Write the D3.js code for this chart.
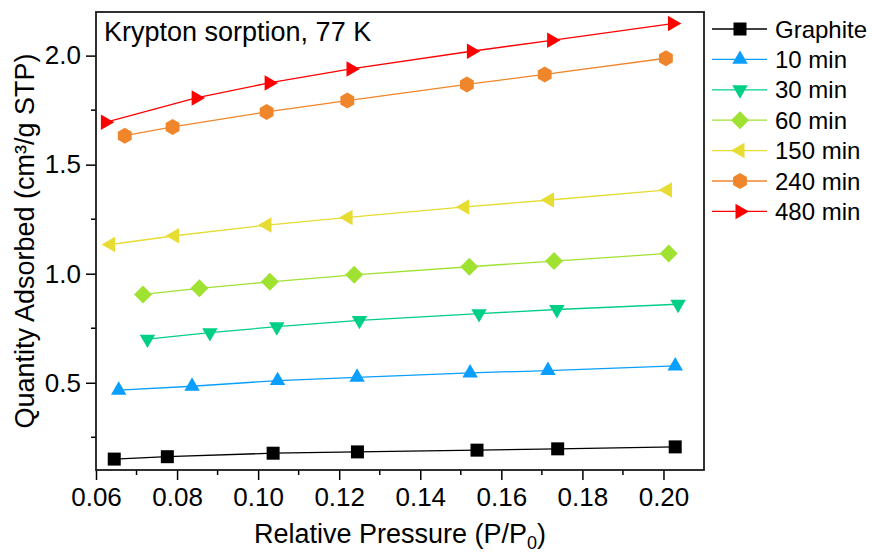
<!DOCTYPE html>
<html>
<head>
<meta charset="utf-8">
<script src="https://cdn.jsdelivr.net/npm/d3@7"></script>
<style>
  html, body { margin: 0; padding: 0; background: #fff; }
  svg { display: block; font-family: "Liberation Sans", Arial, sans-serif; }
</style>
</head>
<body>
<svg id="chart" width="872" height="555"></svg>
<script>
// ---- Data ----
const seriesNames = ["Graphite", "10 min", "30 min", "60 min", "150 min", "240 min", "480 min"];
const seriesColors = ["#000000", "#0A9EFF", "#02CF86", "#A0E232", "#E6DC32", "#F0862C", "#FF0000"];
const seriesSymbols = ["square", "triUp", "triDown", "diamond", "triLeft", "hexagon", "triRight"];

const graphiteX = [0.0645, 0.0776, 0.1037, 0.1245, 0.1540, 0.1739, 0.2029];
const graphiteY = [0.150, 0.161, 0.177, 0.183, 0.191, 0.197, 0.206];
const min10X = [0.0656, 0.0837, 0.1048, 0.1244, 0.1523, 0.1715, 0.2029];
const min10Y = [0.466, 0.484, 0.510, 0.525, 0.545, 0.556, 0.577];
const min30X = [0.0727, 0.0881, 0.1046, 0.1250, 0.1545, 0.1737, 0.2036];
const min30Y = [0.700, 0.730, 0.757, 0.786, 0.817, 0.836, 0.860];
const min60X = [0.0716, 0.0855, 0.1029, 0.1237, 0.1521, 0.1730, 0.2013];
const min60Y = [0.905, 0.933, 0.963, 0.995, 1.032, 1.058, 1.093];
const min150X = [0.0636, 0.0794, 0.1022, 0.1222, 0.1510, 0.1719, 0.2010];
const min150Y = [1.134, 1.174, 1.223, 1.258, 1.306, 1.338, 1.384];
const min240X = [0.0671, 0.0789, 0.1021, 0.1220, 0.1515, 0.1707, 0.2006];
const min240Y = [1.633, 1.673, 1.742, 1.794, 1.868, 1.914, 1.988];
const min480X = [0.0623, 0.0847, 0.1027, 0.1229, 0.1526, 0.1724, 0.2022];
const min480Y = [1.694, 1.806, 1.875, 1.939, 2.020, 2.070, 2.147];

const xTicks = [0.06, 0.08, 0.10, 0.12, 0.14, 0.16, 0.18, 0.20];
const xMinorTicks = [0.07, 0.09, 0.11, 0.13, 0.15, 0.17, 0.19];
const yTicks = [0.5, 1.0, 1.5, 2.0];
const yMinorTicks = [0.25, 0.75, 1.25, 1.75];
const xDomain = [0.06, 0.21];
const yDomain = [0.1, 2.2];

const titleText = "Krypton sorption, 77 K";
const yTitle = "Quantity Adsorbed (cm³/g STP)";

const allX = [graphiteX, min10X, min30X, min60X, min150X, min240X, min480X];
const allY = [graphiteY, min10Y, min30Y, min60Y, min150Y, min240Y, min480Y];
const series = seriesNames.map((name, i) => ({
  name, color: seriesColors[i], symbol: seriesSymbols[i],
  points: allX[i].map((x, j) => ({ x, y: allY[i][j] }))
}));

// ---- Layout ----
const plot = { left: 96, right: 704, top: 12, bottom: 470 };
const svg = d3.select("#chart");

const x = d3.scaleLinear().domain(xDomain).range([plot.left, plot.right]);
const y = d3.scaleLinear().domain(yDomain).range([plot.bottom, plot.top]);

// symbol paths
function symbolPath(type) {
  const tri = (a) => { const h = a * Math.sqrt(3) / 2; return [[0, -2 * h / 3], [a / 2, h / 3], [-a / 2, h / 3]]; };
  let pts;
  if (type === "square") { const s = 6.5; pts = [[-s, -s], [s, -s], [s, s], [-s, s]]; }
  else if (type === "triUp") pts = tri(15.5);
  else if (type === "triDown") pts = tri(15.5).map(([a, b]) => [a, -b]);
  else if (type === "triLeft") pts = tri(15.5).map(([a, b]) => [b, a]);
  else if (type === "triRight") pts = tri(15.5).map(([a, b]) => [-b, a]);
  else if (type === "diamond") { const r = 9; pts = [[0, -r], [r, 0], [0, r], [-r, 0]]; }
  else if (type === "hexagon") { const r = 8; pts = d3.range(6).map(k => { const ang = Math.PI / 3 * k - Math.PI / 2; return [r * Math.cos(ang), r * Math.sin(ang)]; }); }
  return "M" + pts.map(p => p.join(",")).join("L") + "Z";
}

// ---- Axes ----
const fontTick = 26;
const xAxis = d3.axisBottom(x).tickValues(xTicks).tickFormat(d3.format(".2f")).tickSize(10).tickSizeOuter(0).tickPadding(8);
const yAxis = d3.axisLeft(y).tickValues(yTicks).tickFormat(d3.format(".1f")).tickSize(10).tickSizeOuter(0).tickPadding(5);

const gx = svg.append("g").attr("transform", `translate(0,${plot.bottom})`).call(xAxis);
const gy = svg.append("g").attr("transform", `translate(${plot.left},0)`).call(yAxis);
[gx, gy].forEach(g => {
  g.select(".domain").remove();
  g.selectAll(".tick line").attr("stroke", "#000").attr("stroke-width", 1.5);
  g.selectAll(".tick text").attr("font-size", fontTick).attr("fill", "#000")
    .attr("font-family", '"Liberation Sans", Arial, sans-serif');
});

// minor ticks
svg.append("g").selectAll("line").data(xMinorTicks).join("line")
  .attr("x1", d => x(d)).attr("x2", d => x(d))
  .attr("y1", plot.bottom).attr("y2", plot.bottom + 5)
  .attr("stroke", "#000").attr("stroke-width", 1.5);
svg.append("g").selectAll("line").data(yMinorTicks).join("line")
  .attr("y1", d => y(d)).attr("y2", d => y(d))
  .attr("x1", plot.left).attr("x2", plot.left - 5)
  .attr("stroke", "#000").attr("stroke-width", 1.5);

// frame
svg.append("rect")
  .attr("x", plot.left).attr("y", plot.top)
  .attr("width", plot.right - plot.left).attr("height", plot.bottom - plot.top)
  .attr("fill", "none").attr("stroke", "#1a1a1a").attr("stroke-width", 1.8);

// ---- Series ----
const line = d3.line().x(d => x(d.x)).y(d => y(d.y));
const gSeries = svg.append("g");
series.forEach(s => {
  gSeries.append("path").datum(s.points)
    .attr("d", line).attr("fill", "none")
    .attr("stroke", s.color).attr("stroke-width", 1.3);
});
series.forEach(s => {
  gSeries.append("g").selectAll("path").data(s.points).join("path")
    .attr("d", symbolPath(s.symbol))
    .attr("transform", d => `translate(${x(d.x)},${y(d.y)})`)
    .attr("fill", s.color);
});

// ---- Title ----
svg.append("text").attr("x", 104).attr("y", 41)
  .attr("font-size", 27).attr("fill", "#000").text(titleText);

// ---- Axis titles ----
const xt = svg.append("text").attr("x", (plot.left + plot.right) / 2).attr("y", 543)
  .attr("text-anchor", "middle").attr("font-size", 27).attr("fill", "#000");
xt.append("tspan").text("Relative Pressure (P/P");
xt.append("tspan").attr("font-size", 18).attr("dy", 6).text("0");
xt.append("tspan").attr("dy", -6).text(")");

svg.append("text")
  .attr("transform", `translate(34,${(plot.top + plot.bottom) / 2}) rotate(-90)`)
  .attr("text-anchor", "middle").attr("font-size", 27).attr("fill", "#000")
  .text(yTitle);

// ---- Legend ----
const legend = svg.append("g");
series.forEach((s, i) => {
  const cy = 29 + i * 30.4;
  const g = legend.append("g").attr("transform", `translate(0,${cy})`);
  g.append("line").attr("x1", 712).attr("x2", 767).attr("y1", 0).attr("y2", 0)
    .attr("stroke", s.color).attr("stroke-width", 1.3);
  g.append("path").attr("d", symbolPath(s.symbol))
    .attr("transform", "translate(740,0)").attr("fill", s.color);
  g.append("text").attr("x", 775).attr("y", 0).attr("dy", "0.36em")
    .attr("font-size", 24).attr("fill", "#000").text(s.name);
});
</script>
</body>
</html>
